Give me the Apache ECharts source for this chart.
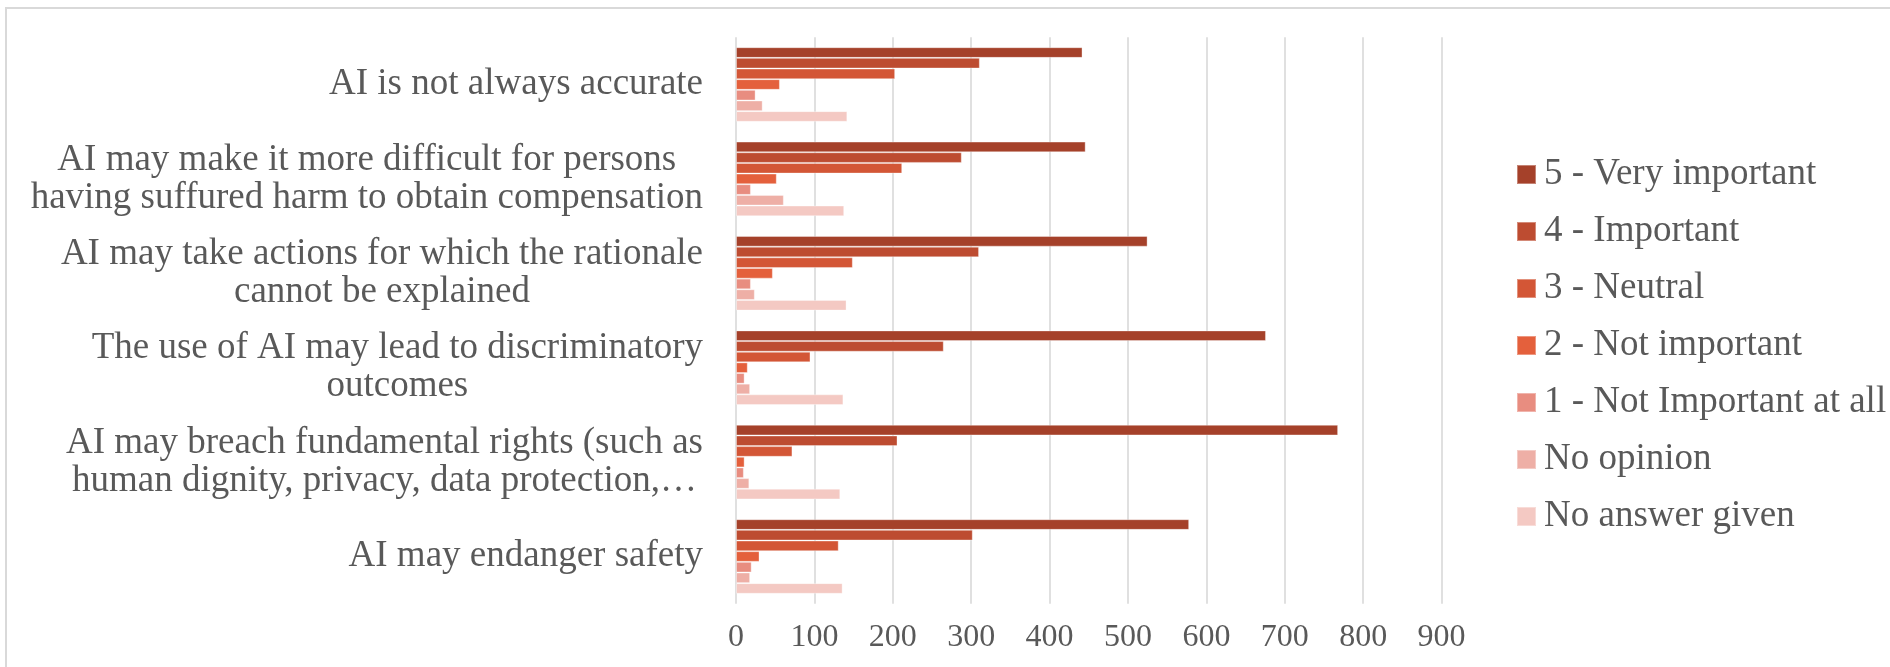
<!DOCTYPE html>
<html>
<head>
<meta charset="utf-8">
<title>Concerns about AI</title>
<script src="https://cdn.jsdelivr.net/npm/echarts@6/dist/echarts.min.js"></script>
<style>
  html, body { margin: 0; padding: 0; background: #ffffff; }
  #chart { width: 1890px; height: 667px; }
</style>
</head>
<body>
<div id="chart"></div>
<script>
// Statements, top to bottom
const categories = [
  'AI is not always accurate',
  'AI may make it more difficult for persons\nhaving suffured harm to obtain compensation',
  'AI may take actions for which the rationale\ncannot be explained',
  'The use of AI may lead to discriminatory\noutcomes',
  'AI may breach fundamental rights (such as\nhuman dignity, privacy, data protection,\u2026',
  'AI may endanger safety'
];

// Answer levels (legend order)
const seriesNames = [
  '5 - Very important',
  '4 - Important',
  '3 - Neutral',
  '2 - Not important',
  '1 - Not Important at all',
  'No opinion',
  'No answer given'
];

// Number of respondents per answer level, one value per statement
const veryImportant   = [442, 446, 525, 676, 768, 578];
const important       = [311, 288, 310, 265, 206, 302];
const neutral         = [203, 212, 149,  95,  72, 131];
const notImportant    = [ 56,  52,  47,  15,  11,  30];
const notImportantAll = [ 25,  19,  19,  11,  10,  20];
const noOpinion       = [ 34,  61,  24,  18,  17,  18];
const noAnswer        = [142, 138, 141, 137, 133, 136];

const xTicks = [0, 100, 200, 300, 400, 500, 600, 700, 800, 900];

const seriesValues = [veryImportant, important, neutral, notImportant, notImportantAll, noOpinion, noAnswer];
const colors = ['#A5412A', '#BD4C31', '#D35636', '#E4603C', '#E88D80', '#EEAFA6', '#F4C9C3'];

const FONT = '"Liberation Serif", "Times New Roman", serif';
const TEXT = '#595959';

const chart = echarts.init(document.getElementById('chart'), null, { renderer: 'canvas' });

const series = seriesNames.map((name, i) => ({
  name: name,
  type: 'bar',
  data: seriesValues[i],
  barGap: '0%',
  barCategoryGap: '21%',
  itemStyle: {
    color: colors[i],
    borderColor: 'rgba(255,255,255,0.35)',
    borderWidth: 1
  },
  emphasis: { disabled: true }
}));

chart.setOption({
  animation: false,
  backgroundColor: '#ffffff',
  color: colors,
  graphic: [{
    type: 'rect',
    silent: true,
    shape: { x: 6, y: 8, width: 1920, height: 700 },
    style: { fill: 'none', stroke: '#D9D9D9', lineWidth: 2 }
  }],
  grid: {
    left: 736,
    top: 37.3,
    width: 705.6,
    height: 566.4,
    containLabel: false
  },
  legend: {
    orient: 'vertical',
    left: 1511,
    top: 151,
    itemWidth: 19,
    itemHeight: 19,
    itemGap: 20,
    icon: 'rect',
    data: seriesNames,
    textStyle: {
      fontFamily: FONT,
      fontSize: 37,
      lineHeight: 37,
      color: TEXT,
      padding: [0, 0, 0, 3]
    }
  },
  xAxis: {
    type: 'value',
    min: xTicks[0],
    max: xTicks[xTicks.length - 1],
    interval: xTicks[1] - xTicks[0],
    axisLine: { show: false },
    axisTick: { show: false },
    splitLine: { show: true, lineStyle: { color: '#D9D9D9', width: 1.6 } },
    axisLabel: {
      margin: 18,
      fontFamily: FONT,
      fontSize: 32,
      color: TEXT
    }
  },
  yAxis: {
    type: 'category',
    inverse: true,
    data: categories,
    axisLine: { show: false },
    axisTick: { show: false },
    axisLabel: {
      margin: 33,
      align: 'right',
      formatter: (v) => v.split('\n').map(s => '{c|' + s + '}').join('\n'),
      rich: {
        c: {
          align: 'center',
          fontFamily: FONT,
          fontSize: 37,
          lineHeight: 38,
          color: TEXT
        }
      }
    }
  },
  series: series
});
</script>
</body>
</html>
